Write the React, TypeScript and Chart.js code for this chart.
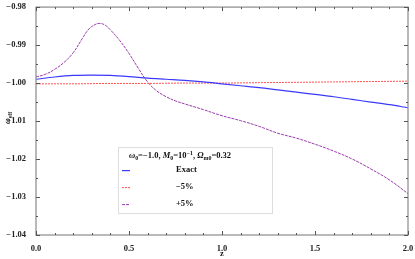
import React, { useEffect, useRef } from "react";
import { Chart, registerables } from "chart.js";
Chart.register(...registerables);

const exactZ = [0, 0.1, 0.2, 0.3, 0.4, 0.5, 0.6, 0.7, 0.8, 0.9, 1.0, 1.1, 1.2, 1.3, 1.4, 1.5, 1.6, 1.7, 1.8, 1.9, 2.0];
const exactValues = [-0.999, -0.9984, -0.998, -0.9979, -0.998, -0.9983, -0.9987, -0.999, -0.9993, -0.9997, -1.0002, -1.0007, -1.0012, -1.0018, -1.0024, -1.003, -1.0036, -1.0043, -1.005, -1.0057, -1.0065];
const minus5Z = [0, 0.2, 0.4, 0.6, 0.8, 1.0, 1.2, 1.4, 1.6, 1.8, 2.0];
const minus5Values = [-1.0002, -1.0002, -1.0001, -1.0001, -1.0, -1.0, -0.9999, -0.9998, -0.9997, -0.9996, -0.9995];
const plus5Z = [0, 0.05, 0.1, 0.15, 0.2, 0.25, 0.28, 0.31, 0.34, 0.37, 0.4, 0.45, 0.5, 0.55, 0.6, 0.65, 0.7, 0.75, 0.8, 0.9, 1.0, 1.1, 1.2, 1.3, 1.4, 1.5, 1.6, 1.7, 1.8, 1.9, 2.0];
const plus5Values = [-0.9984, -0.9977, -0.9964, -0.9946, -0.992, -0.9882, -0.986, -0.9848, -0.9843, -0.9847, -0.986, -0.9888, -0.9922, -0.9961, -0.9997, -1.0021, -1.0036, -1.0047, -1.0055, -1.007, -1.0086, -1.0099, -1.0114, -1.0132, -1.0145, -1.0161, -1.0179, -1.02, -1.0226, -1.0255, -1.0291];
const seriesLabels = ["Exact", "\u22125%", "+5%"];
const xAxisTitle = "z";
const xMin = 0, xMax = 2, xStep = 0.5;
const yMin = -1.04, yMax = -0.98, yStep = 0.01;

const FONT = "'Liberation Serif', 'Times New Roman', serif";

const toPoints = (zs: number[], vals: number[]) => vals.map((v, i) => ({ x: zs[i], y: v }));

const framePlugin = {
  id: "frame",
  afterDatasetsDraw(chart: any) {
    const { ctx, chartArea: a, scales } = chart;
    const x = scales.x, y = scales.y;
    ctx.save();
    ctx.strokeStyle = "#8a8a8a";
    ctx.lineWidth = 1.2;
    ctx.strokeRect(a.left, a.top, a.right - a.left, a.bottom - a.top);
    ctx.strokeStyle = "#555";
    ctx.lineWidth = 1;
    for (let i = 0; i <= 20; i++) {
      const px = Math.round(x.getPixelForValue(i / 10)) + 0.5;
      const len = i % 5 === 0 ? 4 : 2;
      ctx.beginPath();
      ctx.moveTo(px, a.bottom); ctx.lineTo(px, a.bottom - len);
      ctx.moveTo(px, a.top); ctx.lineTo(px, a.top + len);
      ctx.stroke();
    }
    for (let i = 0; i <= 12; i++) {
      const py = Math.round(y.getPixelForValue(-0.98 - i * 0.005)) + 0.5;
      const len = i % 2 === 0 ? 4 : 2;
      ctx.beginPath();
      ctx.moveTo(a.left, py); ctx.lineTo(a.left + len, py);
      ctx.moveTo(a.right, py); ctx.lineTo(a.right - len, py);
      ctx.stroke();
    }
    ctx.restore();
  },
};

type Seg = { t: string; it?: boolean; pos?: "sub" | "sup" };

function drawRich(ctx: CanvasRenderingContext2D, segs: Seg[], x: number, y: number, size: number) {
  let cx = x;
  for (const s of segs) {
    const sz = s.pos ? size * 0.7 : size;
    ctx.font = `${s.it ? "italic " : ""}bold ${sz}px ${FONT}`;
    const dy = s.pos === "sub" ? size * 0.3 : s.pos === "sup" ? -size * 0.35 : 0;
    ctx.fillText(s.t, cx, y + dy);
    cx += ctx.measureText(s.t).width;
  }
  return cx - x;
}

const legendPlugin = {
  id: "customLegend",
  afterDatasetsDraw(chart: any) {
    const { ctx, chartArea: a } = chart;
    const left = a.left + 82, top = a.top + 140, w = 154, h = 66;
    ctx.save();
    ctx.fillStyle = "#fff";
    ctx.fillRect(left, top, w, h);
    ctx.strokeStyle = "#dcdcdc";
    ctx.lineWidth = 1;
    ctx.strokeRect(left + 0.5, top + 0.5, w, h);
    ctx.fillStyle = "#111";
    ctx.textBaseline = "middle";
    ctx.textAlign = "left";
    const title: Seg[] = [
      { t: "\u03c9", it: true }, { t: "0", pos: "sub" }, { t: "=\u22121.0, " },
      { t: "M", it: true }, { t: "0", pos: "sub" }, { t: "=10" }, { t: "\u22121", pos: "sup" }, { t: ", " },
      { t: "\u03a9", it: true }, { t: "m0", pos: "sub" }, { t: "=0.32" },
    ];
    drawRich(ctx, title, left + 11, top + 9, 8.5);
    chart.data.datasets.forEach((ds: any, i: number) => {
      const yy = top + 23 + i * 17;
      ctx.save();
      ctx.strokeStyle = ds.borderColor;
      ctx.lineWidth = ds.borderWidth;
      ctx.setLineDash(ds.borderDash || []);
      ctx.beginPath();
      ctx.moveTo(left + 4, yy + 0.5);
      ctx.lineTo(left + 12, yy + 0.5);
      ctx.stroke();
      ctx.restore();
      ctx.fillStyle = "#111";
      ctx.font = `bold 8.5px ${FONT}`;
      ctx.fillText(ds.label, left + 58, yy);
    });
    ctx.restore();
  },
};

const yTitlePlugin = {
  id: "yTitle",
  afterDraw(chart: any) {
    const { ctx, chartArea: a } = chart;
    ctx.save();
    ctx.translate(8, (a.top + a.bottom) / 2 - 4);
    ctx.rotate(-Math.PI / 2);
    ctx.fillStyle = "#111";
    ctx.textBaseline = "middle";
    ctx.textAlign = "left";
    const segs: Seg[] = [{ t: "\u03c9", it: true }, { t: "eff", pos: "sub" }];
    ctx.font = `italic bold 8px ${FONT}`;
    const w = ctx.measureText("\u03c9").width + 8;
    drawRich(ctx, segs, -w / 2, 0, 8);
    ctx.restore();
  },
};

export default function App() {
  const ref = useRef<HTMLCanvasElement>(null);
  useEffect(() => {
    document.body.style.margin = "0";
    const chart = new Chart(ref.current!, {
      type: "line",
      data: {
        datasets: [
          { label: seriesLabels[0], data: toPoints(exactZ, exactValues), borderColor: "#3a3aff", borderWidth: 1.2, pointRadius: 0, cubicInterpolationMode: "monotone" },
          { label: seriesLabels[1], data: toPoints(minus5Z, minus5Values), borderColor: "#ff5050", borderWidth: 1, borderDash: [2, 1], pointRadius: 0, cubicInterpolationMode: "monotone" },
          { label: seriesLabels[2], data: toPoints(plus5Z, plus5Values), borderColor: "#9a3aac", borderWidth: 1, borderDash: [3, 1], pointRadius: 0, tension: 0.4 },
        ],
      } as any,
      options: {
        animation: false,
        responsive: false,
        devicePixelRatio: 1,
        layout: { padding: { top: 3, right: 7, left: 0, bottom: 0 } },
        plugins: { legend: { display: false }, tooltip: { enabled: false } },
        scales: {
          x: {
            type: "linear", min: xMin, max: xMax,
            grid: { display: false }, border: { display: false },
            ticks: { stepSize: xStep, padding: 1, maxRotation: 0, color: "#222", font: { family: FONT, weight: "bold", size: 8.5 }, callback: (v: any) => Number(v).toFixed(1) },
            title: { display: true, text: xAxisTitle, padding: 0, color: "#222", font: { family: FONT, weight: "bold", size: 8.5 } },
            afterFit: (s: any) => { s.height = 24; },
          },
          y: {
            type: "linear", min: yMin, max: yMax,
            grid: { display: false }, border: { display: false },
            ticks: { stepSize: yStep, padding: 2, color: "#222", font: { family: FONT, weight: "bold", size: 8.5 }, callback: (v: any) => Number(v).toFixed(2).replace("-", "\u2212") },
            afterFit: (s: any) => { s.width = 36; },
          },
        },
      } as any,
      plugins: [framePlugin, legendPlugin, yTitlePlugin],
    });
    return () => chart.destroy();
  }, []);
  return (
    <div style={{ position: "absolute", left: 0, top: 0, width: 415, height: 259 }}>
      <canvas ref={ref} width={415} height={259} />
    </div>
  );
}
